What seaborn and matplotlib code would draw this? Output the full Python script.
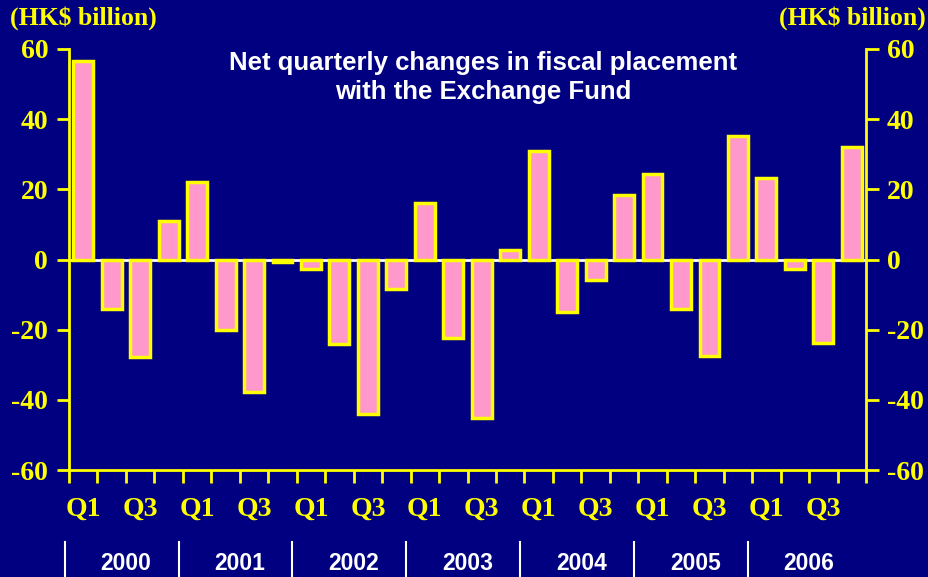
import matplotlib
matplotlib.use("Agg")
import matplotlib.pyplot as plt
import seaborn as sns
import numpy as np
import pandas as pd

# quarterly net changes (HK$ billion), 2000 Q1 - 2006 Q4
years = ['2000', '2001', '2002', '2003', '2004', '2005', '2006']
quarters = ['Q1', 'Q2', 'Q3', 'Q4']
values = [56.5, -14.2, -27.9, 11.1,
          22.2, -20.2, -37.9, -0.8,
          -2.6, -24.2, -43.9, -8.3,
          16.2, -22.5, -45.3, 2.6,
          30.8, -15.1, -5.7, 18.5,
          24.5, -14.2, -27.6, 35.3,
          23.1, -2.6, -23.9, 32.2]
yticks = [-60, -40, -20, 0, 20, 40, 60]

navy = '#000080'
pink = '#FF99CC'
yellow = '#FFFF00'

df = pd.DataFrame({
    'period': [y + ' ' + q for y in years for q in quarters],
    'value': values,
})

fig = plt.figure(figsize=(9.29, 5.77), dpi=100, facecolor=navy)
ax = fig.add_axes([0.0743, 0.1854, 0.8579, 0.7297])
ax.set_facecolor(navy)

sns.barplot(data=df, x='period', y='value', color=pink, edgecolor=yellow,
            linewidth=2.5, width=0.7, saturation=1, ax=ax)
ax.axhline(0, color='white', lw=2, zorder=0.5)

n = len(values)
ax.set_xlim(-0.5, n - 0.5)
ax.set_ylim(-60, 60)
ax.set_xlabel('')
ax.set_ylabel('')

tick_font = dict(family='Liberation Serif', weight='bold', size=20)

# x axis: small ticks between quarters, labels Q1/Q3
ax.set_xticks(np.arange(-0.5, n, 1), minor=True)
ax.set_xticks(np.arange(0, n, 2))
ax.set_xticklabels([quarters[i % 4] for i in range(0, n, 2)], color=yellow, **tick_font)
ax.tick_params(axis='x', which='major', length=0, pad=19)
ax.tick_params(axis='x', which='minor', length=9, width=2, color=yellow, direction='out')

ax.set_yticks(yticks)
ax.set_yticklabels([str(t) for t in yticks], color=yellow, **tick_font)
ax.tick_params(axis='y', length=9, width=2, color=yellow, pad=6)

for s in ['top', 'right']:
    ax.spines[s].set_visible(False)
for s in ['left', 'bottom']:
    ax.spines[s].set_color(yellow)
    ax.spines[s].set_linewidth(2)

ax2 = ax.twinx()
ax2.set_ylim(-60, 60)
ax2.set_yticks(yticks)
ax2.set_yticklabels([str(t) for t in yticks], color=yellow, **tick_font)
ax2.tick_params(axis='y', length=9, width=2, color=yellow, pad=6)
for s in ['top', 'left', 'bottom']:
    ax2.spines[s].set_visible(False)
ax2.spines['right'].set_color(yellow)
ax2.spines['right'].set_linewidth(2)

# unit labels
fig.text(0.011, 0.968, '(HK$ billion)', color=yellow, ha='left', va='center',
         fontsize=18.5, family='Liberation Serif', weight='bold')
fig.text(0.997, 0.968, '(HK$ billion)', color=yellow, ha='right', va='center',
         fontsize=18.5, family='Liberation Serif', weight='bold')

# title
ax.text(0.52, 0.932, 'Net quarterly changes in fiscal placement\nwith the Exchange Fund',
        transform=ax.transAxes, ha='center', va='center', color='white',
        fontsize=18.5, family='Liberation Sans', weight='bold', linespacing=1.25)

# year labels with separators
trans = matplotlib.transforms.blended_transform_factory(ax.transData, fig.transFigure)
for i, yr in enumerate(years):
    ax.text(4 * i + 1.5, 0.024, yr, transform=trans, ha='center', va='center',
            color='white', fontsize=16.5, family='Liberation Sans', weight='bold')
    ax.plot([4 * i - 0.65, 4 * i - 0.65], [0.0, 0.06], transform=trans,
            color='white', lw=1.5, clip_on=False)

fig.savefig('out.png', dpi=100, facecolor=navy)
